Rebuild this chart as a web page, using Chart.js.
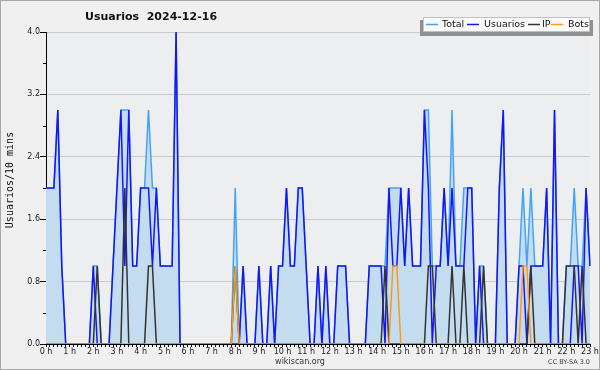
<!DOCTYPE html>
<html><head><meta charset="utf-8">
<script src="https://cdn.jsdelivr.net/npm/chart.js@4"></script>
<style>html,body{margin:0;padding:0;background:#f0f0f0;}canvas{display:block}</style>
</head><body>
<canvas id="c" width="600" height="370"></canvas>
<script>
// ---- data (one value per 10-minute slot, 0:00 .. 23:00) ----
const hourLabels = ['0 h','1 h','2 h','3 h','4 h','5 h','6 h','7 h','8 h','9 h','10 h','11 h','12 h','13 h','14 h','15 h','16 h','17 h','18 h','19 h','20 h','21 h','22 h','23 h'];
const slots = [];
for (let h = 0; h < 24; h++) for (let m = 0; m < 6; m++) if (slots.length < 139) slots.push(h + ':' + m + '0');

const total = [
 2,2,2,3,1,0,0,0,0,0, 0,0,1,1,0,0,0,1,2,3, 3,3,1,1,2,2,3,2,2,1,
 1,1,1,4,0,0,0,0,0,0, 0,0,0,0,0,0,0,0,2,0, 1,0,0,0,1,0,0,1,0,1,
 1,2,1,1,2,2,1,0,0,1, 0,1,0,0,1,1,1,0,0,0, 0,0,1,1,1,1,1,2,2,2,
 2,1,2,1,1,1,3,3,1,1, 1,2,1,3,1,1,2,2,2,0, 1,1,0,0,0,2,3,0,0,0,
 1,2,1,2,1,1,1,2,0,3, 0,0,1,1,2,1,1,2,1];
const usuarios = [
 2,2,2,3,1,0,0,0,0,0, 0,0,1,0,0,0,0,1,2,3, 1,3,1,1,2,2,2,1,2,1,
 1,1,1,4,0,0,0,0,0,0, 0,0,0,0,0,0,0,0,0,0, 1,0,0,0,1,0,0,1,0,1,
 1,2,1,1,2,2,1,0,0,1, 0,1,0,0,1,1,1,0,0,0, 0,0,1,1,1,1,0,2,1,1,
 2,1,2,1,1,1,3,2,0,1, 1,2,1,2,1,1,1,2,2,0, 1,0,0,0,0,2,3,0,0,0,
 1,1,0,1,1,1,1,2,0,3, 0,0,0,0,1,1,0,2,1];
const ip = [
 0,0,0,0,0,0,0,0,0,0, 0,0,0,1,0,0,0,0,0,0, 2,0,0,0,0,0,1,1,0,0,
 0,0,0,0,0,0,0,0,0,0, 0,0,0,0,0,0,0,0,1,0, 0,0,0,0,0,0,0,0,0,0,
 0,0,0,0,0,0,0,0,0,0, 0,0,0,0,0,0,0,0,0,0, 0,0,0,0,0,0,1,0,0,0,
 0,0,0,0,0,0,0,1,1,0, 0,0,0,1,0,0,1,0,0,0, 0,1,0,0,0,0,0,0,0,0,
 0,0,0,1,0,0,0,0,0,0, 0,0,1,1,1,0,1,0,0];
const bots = [
 0,0,0,0,0,0,0,0,0,0, 0,0,0,0,0,0,0,0,0,0, 0,0,0,0,0,0,0,0,0,0,
 0,0,0,0,0,0,0,0,0,0, 0,0,0,0,0,0,0,0,1,0, 0,0,0,0,0,0,0,0,0,0,
 0,0,0,0,0,0,0,0,0,0, 0,0,0,0,0,0,0,0,0,0, 0,0,0,0,0,0,0,0,1,1,
 0,0,0,0,0,0,0,0,0,0, 0,0,0,0,0,0,0,0,0,0, 0,0,0,0,0,0,0,0,0,0,
 0,1,1,0,0,0,0,0,0,0, 0,0,0,0,0,0,0,0,0];
const legendItems = [
  {label:'Total', color:'#45a3f5'},
  {label:'Usuarios', color:'#1515f5'},
  {label:'IP', color:'#333333'},
  {label:'Bots', color:'#ff9a10'}
];

Chart.defaults.font.family = '"DejaVu Sans"';
const isMajor = v => Math.abs(v / 0.8 - Math.round(v / 0.8)) < 1e-6;

const deco = {
  id: 'deco',
  beforeDraw(chart) {
    const ctx = chart.ctx, a = chart.chartArea;
    ctx.save();
    ctx.fillStyle = '#f0f0f0';
    ctx.fillRect(0, 0, chart.width, chart.height);
    ctx.strokeStyle = '#a8a8a8';
    ctx.lineWidth = 1;
    ctx.strokeRect(0.5, 0.5, chart.width - 1, chart.height - 1);
    ctx.fillStyle = '#eceef0';
    ctx.fillRect(a.left, a.top, a.right - a.left, a.bottom - a.top);
    ctx.restore();
  },
  afterDraw(chart) {
    const ctx = chart.ctx, a = chart.chartArea, ys = chart.scales.y;
    ctx.save();
    // minor y ticks
    ctx.strokeStyle = '#000'; ctx.lineWidth = 1;
    ys.ticks.forEach(t => {
      if (!isMajor(t.value)) {
        const py = Math.round(ys.getPixelForValue(t.value)) + 0.5;
        ctx.beginPath(); ctx.moveTo(a.left - 3, py); ctx.lineTo(a.left, py); ctx.stroke();
      }
    });
    // title
    ctx.fillStyle = '#111';
    ctx.font = 'bold 11px "DejaVu Sans"';
    ctx.textBaseline = 'middle'; ctx.textAlign = 'left';
    ctx.fillText('Usuarios  2024-12-16', 85, 17);
    // y title
    ctx.save();
    ctx.translate(10, 180); ctx.rotate(-Math.PI / 2);
    ctx.font = '10px "DejaVu Sans Mono"'; ctx.textAlign = 'center';
    ctx.fillStyle = '#111';
    ctx.fillText('Usuarios/10 mins', 0, 0);
    ctx.restore();
    // footer
    ctx.font = '8px "DejaVu Sans"'; ctx.textAlign = 'center'; ctx.fillStyle = '#333';
    ctx.fillText('wikiscan.org', 300, 362);
    ctx.font = '6.5px "DejaVu Sans"'; ctx.textAlign = 'right'; ctx.fillStyle = '#444';
    ctx.fillText('CC BY-SA 3.0', 590, 362);
    // legend
    ctx.fillStyle = '#909090';
    ctx.fillRect(420, 20, 173, 16);
    ctx.fillStyle = '#fafafa';
    ctx.fillRect(423, 17, 167, 15);
    ctx.strokeStyle = '#c0c0c0';
    ctx.strokeRect(423.5, 17.5, 166, 14);
    const pos = [[426, 442], [467, 484], [528, 542], [551, 568]];
    ctx.font = '9.5px "DejaVu Sans"'; ctx.textAlign = 'left'; ctx.textBaseline = 'middle';
    legendItems.forEach((it, k) => {
      ctx.strokeStyle = it.color; ctx.lineWidth = 1.5;
      ctx.beginPath(); ctx.moveTo(pos[k][0], 24.5); ctx.lineTo(pos[k][0] + 12, 24.5); ctx.stroke();
      ctx.fillStyle = '#111';
      ctx.fillText(it.label, pos[k][1], 25);
    });
    ctx.restore();
  }
};

const line = (label, data, color, order, extra) => Object.assign({
  label, data, borderColor: color, borderWidth: 1.5, pointRadius: 0,
  tension: 0, fill: false, order
}, extra || {});

new Chart(document.getElementById('c'), {
  type: 'line',
  data: {
    labels: slots,
    datasets: [
      line('Total', total, legendItems[0].color, 4, {fill: 'origin', backgroundColor: '#c4dcf0'}),
      line('Usuarios', usuarios, legendItems[1].color, 3),
      line('IP', ip, legendItems[2].color, 2),
      line('Bots', bots, legendItems[3].color, 1)
    ]
  },
  options: {
    responsive: false, animation: false,
    layout: {padding: {left: 0, right: 10, top: 32, bottom: 0}},
    plugins: {legend: {display: false}, title: {display: false}, tooltip: {enabled: false}},
    scales: {
      x: {
        type: 'category', offset: false,
        grid: {drawOnChartArea: false, drawTicks: true, tickLength: 3, tickColor: '#000'},
        border: {display: true, color: '#000', width: 1},
        ticks: {autoSkip: false, maxRotation: 0, minRotation: 0, padding: 0,
          font: {size: 8}, color: '#222',
          callback: (v, i) => (i % 6 === 0 ? hourLabels[i / 6] : '')},
        afterFit: s => { s.height = 26; }
      },
      y: {
        min: 0, max: 4,
        grid: {
          color: c => (isMajor(c.tick.value) ? '#cacaca' : 'rgba(0,0,0,0)'),
          tickColor: c => (isMajor(c.tick.value) ? '#000' : 'rgba(0,0,0,0)'),
          tickLength: 6
        },
        border: {display: true, color: '#000', width: 1},
        ticks: {stepSize: 0.4, autoSkip: false, padding: 0, font: {size: 8}, color: '#222',
          callback: v => (isMajor(v) ? v.toFixed(1) : '')},
        afterFit: s => { s.width = 46; }
      }
    }
  },
  plugins: [deco]
});
</script>
</body></html>
